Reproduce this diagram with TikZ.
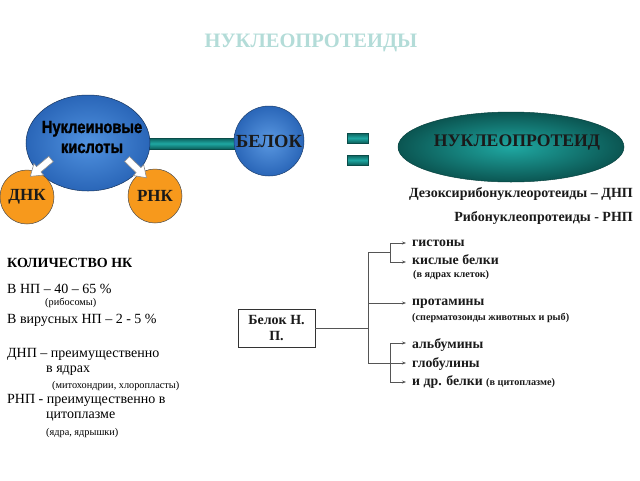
\documentclass[tikz,border=0pt]{standalone}
\usepackage{fontspec}
\setmainfont{Liberation Serif}
\newfontfamily\condfont{Liberation Sans}[FakeStretch=0.84,BoldFeatures={FakeStretch=0.84,FakeBold=1.5}]
\usetikzlibrary{shapes.geometric,arrows.meta}
\definecolor{nkblue}{HTML}{3D86DC}
\definecolor{nkbluedark}{HTML}{2A66B8}
\definecolor{nkorange}{HTML}{F7991C}
\definecolor{tealA}{HTML}{1FA8A2}
\definecolor{tealB}{HTML}{0C5F5B}
\definecolor{titlecol}{HTML}{B3DCD8}
\definecolor{linegray}{HTML}{555555}
\definecolor{textdark}{HTML}{1A1A1A}
\begin{document}
\begin{tikzpicture}[x=1pt,y=-1pt,
  bluecirc/.style={circle, draw=nkbluedark!60!black, line width=0.5pt, inner color=nkblue!85!white, outer color=nkbluedark},
  orangecirc/.style={circle, draw=black!70, line width=0.5pt, fill=nkorange, minimum size=54pt, inner sep=0pt},
  tealbar/.style={draw=tealB!80!black, line width=0.4pt, top color=tealB, bottom color=tealB, middle color=tealA},
  blockarrow/.style={draw=black!45, fill=white, line width=0.6pt, line join=miter},
  bigtxt/.style={font=\bfseries\fontsize{17}{17}\selectfont, text=textdark},
  ltxt/.style={anchor=base west, font=\fontsize{14}{15}\selectfont, inner sep=0pt},
  stxt/.style={anchor=base west, font=\fontsize{10.3}{11}\selectfont, inner sep=0pt},
  rtxt/.style={anchor=base west, font=\bfseries\fontsize{13.8}{14}\selectfont, inner sep=0pt, text=textdark},
  rstxt/.style={anchor=base west, font=\bfseries\fontsize{10.2}{11}\selectfont, inner sep=0pt, text=textdark},
  conn/.style={draw=linegray, line width=0.8pt},
  arr/.style={conn, -{Stealth[length=4pt,width=3pt]}, shorten >=6pt}
]
\useasboundingbox (0,0) rectangle (640,480);
\fill[white] (0,0) rectangle (640,480);

% title
\node[font=\bfseries\fontsize{20.5}{21}\selectfont, text=titlecol] (title) at (311,43) {НУКЛЕОПРОТЕИДЫ};

% connecting bar
\coordinate (barL) at (140,138);
\coordinate (barR) at (240,149);
\path[tealbar] (barL) rectangle (barR);

% nucleic acids ellipse
\node[ellipse, draw=nkbluedark!50!black, line width=0.5pt, inner color=nkblue!90!white, outer color=nkbluedark, minimum width=124pt, minimum height=96pt] (nk) at (88,143) {};
\node[font=\condfont\bfseries\fontsize{17.5}{20}\selectfont, align=center, text=black] (nktext) at (92,137) {Нуклеиновые\\кислоты};

% protein circle
\node[bluecirc, minimum size=70pt, inner sep=0pt] (belok) at (269,141) {};
\node[bigtxt, font=\bfseries\fontsize{18.5}{19}\selectfont] (beloktext) at (269,141) {БЕЛОК};

% DNA / RNA
\node[orangecirc] (dnk) at (27,197) {};
\node[bigtxt, font=\bfseries\fontsize{17}{17}\selectfont] (dnktext) at (27,197) {ДНК};
\node[orangecirc] (rnk) at (155,196) {};
\node[bigtxt, font=\bfseries\fontsize{17}{17}\selectfont] (rnktext) at (155,196) {РНК};

% white block arrows (tail -> tip)
\path[blockarrow, shift={(51,159)}, rotate=220]
  (0,-3.5) -- (16,-3.5) -- (16,-7.5) -- (27,0) -- (16,7.5) -- (16,3.5) -- (0,3.5) -- cycle;
\path[blockarrow, shift={(127,159)}, rotate=-44]
  (0,-3.5) -- (16,-3.5) -- (16,-7.5) -- (27,0) -- (16,7.5) -- (16,3.5) -- (0,3.5) -- cycle;

% equals sign
\path[tealbar] (347,133) rectangle (368,143);
\path[tealbar] (347,155) rectangle (368,165);

% nucleoprotein ellipse
\node[ellipse, draw=tealB!70!black, line width=0.5pt, inner color=tealA, outer color=tealB!90!black, minimum width=226pt, minimum height=70pt] (np) at (511,147) {};
\node[bigtxt, font=\bfseries\fontsize{17.7}{18}\selectfont] (nptext) at (517,143) {НУКЛЕОПРОТЕИД};

% DNP / RNP
\node[anchor=base east, inner sep=0pt, font=\bfseries\fontsize{14}{15}\selectfont, text=textdark] (dnp) at (633,197) {Дезоксирибонуклеоротеиды – ДНП};
\node[anchor=base east, inner sep=0pt, font=\bfseries\fontsize{14}{15}\selectfont, text=textdark] (rnp) at (633,221) {Рибонуклеопротеиды - РНП};

% left text block
\node[ltxt, font=\bfseries\fontsize{14}{15}\selectfont] (kol) at (7,267) {КОЛИЧЕСТВО НК};
\node[ltxt] (l1) at (7,293) {В НП – 40 – 65 \%};
\node[stxt] (l2) at (45,305) {(рибосомы)};
\node[ltxt] (l3) at (7,323) {В вирусных НП – 2 - 5 \%};
\node[ltxt] (l4) at (7,357) {ДНП – преимущественно};
\node[ltxt] (l5) at (46,372) {в ядрах};
\node[stxt] (l6) at (52,388) {(митохондрии, хлоропласты)};
\node[ltxt] (l7) at (7,403) {РНП - преимущественно в};
\node[ltxt] (l8) at (46,418) {цитоплазме};
\node[stxt] (l9) at (46,435) {(ядра, ядрышки)};

% protein box
\node[draw=black!80, line width=0.8pt, minimum width=77pt, minimum height=38pt, align=center, font=\bfseries\fontsize{14}{16}\selectfont, text=textdark, inner sep=1pt] (box) at (276.5,328) {Белок Н.\\П.};

% branch text
\node[rtxt] (t1) at (412,246) {гистоны};
\node[rtxt] (t2) at (412,264) {кислые белки};
\node[rstxt] (t2s) at (413,277) {(в ядрах клеток)};
\node[rtxt] (t3) at (412,305) {протамины};
\node[rstxt] (t3s) at (412,320) {(сперматозоиды животных и рыб)};
\node[rtxt] (t4) at (412,348) {альбумины};
\node[rtxt] (t5) at (412,367) {глобулины};
\node[rtxt] (t6) at (412,385) {и др. белки {\fontsize{10.2}{11}\selectfont(в цитоплазме)}};

% connectors
\coordinate (trunkT) at (368,252);
\coordinate (trunkB) at (368,363);
\coordinate (subA) at (390,252);
\draw[conn] (box.east) -- (box.east -| trunkT);
\draw[conn] (subA) -- (trunkT) -- (trunkB);
\draw[conn] (390,243) -- (390,262);
\draw[arr] (390,243) -- (t1.west |- 0,243);
\draw[arr] (390,262) -- (t2.west |- 0,262);
\draw[arr] (368,303) -- (t3.west |- 0,303);
\draw[conn] (390,343) -- (390,382);
\draw[arr] (390,343) -- (t4.west |- 0,343);
\draw[arr] (trunkB) -- (t5.west |- 0,363);
\draw[arr] (390,382) -- (t6.west |- 0,382);
\end{tikzpicture}
\end{document}
